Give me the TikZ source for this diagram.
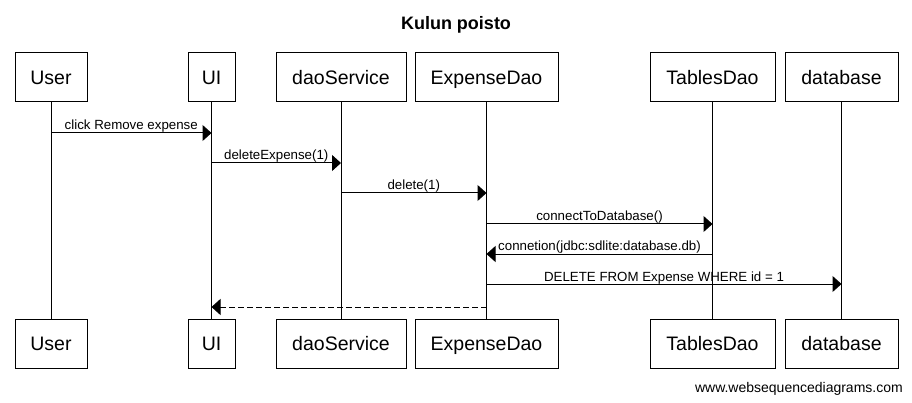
\documentclass[tikz,border=0pt]{standalone}
\usepackage{fontspec}
\setmainfont{Liberation Sans}
\usetikzlibrary{arrows.meta}
\begin{document}
\begin{tikzpicture}[x=1pt,y=-1pt,
  actor/.style={draw,line width=1pt,minimum height=49pt,inner sep=0pt,text height=14pt,text depth=0pt,font=\fontsize{19.5}{22}\selectfont},
  lifeline/.style={line width=1pt},
  msg/.style={line width=1pt,-{Triangle[length=9pt,width=16pt]}},
  reply/.style={msg,dash pattern=on 6pt off 3pt},
  lbl/.style={anchor=base,inner sep=0pt,font=\fontsize{13.3}{15}\selectfont}]
\useasboundingbox (0,0) rectangle (912,403);
\node[font=\fontsize{18}{20}\selectfont\bfseries,anchor=base,inner sep=0pt] (title) at (456,30) {Kulun poisto};
% top actors
\node[actor,minimum width=72pt]  (userT) at (51,77.5) {User};
\node[actor,minimum width=47pt]  (uiT)   at (211.5,77.5) {UI};
\node[actor,minimum width=130pt] (daoT)  at (341,77.5) {daoService};
\node[actor,minimum width=143pt] (expT)  at (486.5,77.5) {ExpenseDao};
\node[actor,minimum width=125pt] (tabT)  at (712.5,77.5) {TablesDao};
\node[actor,minimum width=113pt] (dbT)   at (841.5,77.5) {database};
% bottom actors
\node[actor,minimum width=72pt]  (userB) at (51,343.5) {User};
\node[actor,minimum width=47pt]  (uiB)   at (211.5,343.5) {UI};
\node[actor,minimum width=130pt] (daoB)  at (341,343.5) {daoService};
\node[actor,minimum width=143pt] (expB)  at (486.5,343.5) {ExpenseDao};
\node[actor,minimum width=125pt] (tabB)  at (712.5,343.5) {TablesDao};
\node[actor,minimum width=113pt] (dbB)   at (841.5,343.5) {database};
% lifelines
\foreach \a in {user,ui,dao,exp,tab,db}
  \draw[lifeline] (\a T.south) -- (\a B.north);
% message rows
\coordinate (m1) at (0,133);
\coordinate (m2) at (0,163);
\coordinate (m3) at (0,193);
\coordinate (m4) at (0,224);
\coordinate (m5) at (0,254);
\coordinate (m6) at (0,284);
\coordinate (m7) at (0,307);
\draw[msg] (userT |- m1) -- node[lbl,yshift=3pt]{click Remove expense} (uiT |- m1);
\draw[msg] (uiT |- m2) -- node[lbl,yshift=3pt]{deleteExpense(1)} (daoT |- m2);
\draw[msg] (daoT |- m3) -- node[lbl,yshift=3pt]{delete(1)} (expT |- m3);
\draw[msg] (expT |- m4) -- node[lbl,yshift=3pt]{connectToDatabase()} (tabT |- m4);
\draw[msg] (tabT |- m5) -- node[lbl,yshift=3pt]{connetion(jdbc:sdlite:database.db)} (expT |- m5);
\draw[msg] (expT |- m6) -- node[lbl,yshift=3pt]{DELETE FROM Expense WHERE id = 1} (dbT |- m6);
\draw[reply] (expT |- m7) -- (uiT |- m7);
\node[anchor=base east,inner sep=0pt,font=\fontsize{14}{16}\selectfont] (footer) at (903,392) {www.websequencediagrams.com};
\end{tikzpicture}
\end{document}
